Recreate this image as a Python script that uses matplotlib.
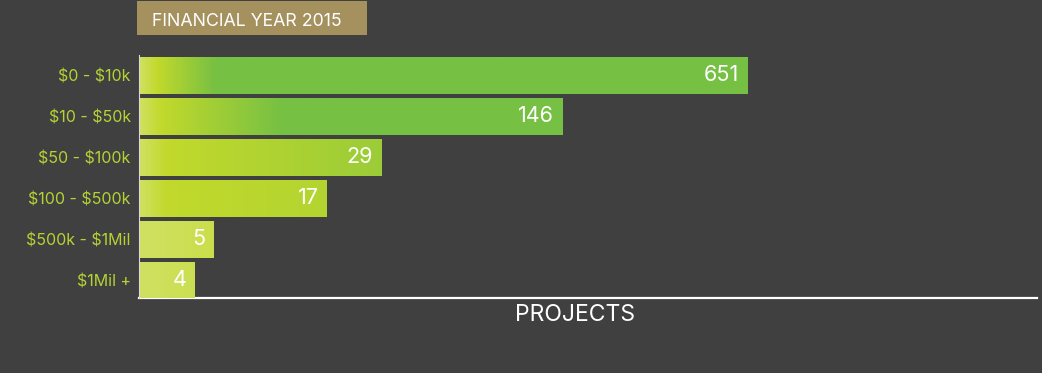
import numpy as np
import matplotlib
matplotlib.use('Agg')
import matplotlib.pyplot as plt
from matplotlib.colors import to_rgb
from matplotlib.patches import Rectangle

plt.rcParams['font.family'] = ['Inter', 'DejaVu Sans']
plt.rcParams['text.parse_math'] = False

# data
ranges = ['$0 - $10k', '$10 - $50k', '$50 - $100k', '$100 - $500k', '$500k - $1Mil', '$1Mil +']
projects = [651, 146, 29, 17, 5, 4]
title = 'FINANCIAL YEAR 2015'
xlabel = 'PROJECTS'

# colours
bg = '#404040'
light = '#d0e162'
yellow = '#c2d92c'
green = '#76c043'
label_col = '#b5d235'
# gradient stops for each bar (axes fraction): where yellow peaks, where green is reached
yellow_at = [0.02, 0.024, 0.03, 0.03, 0.2, 0.2]
green_at = [0.085, 0.16, 0.5, 0.95, 3.0, 3.0]


# compressed log scale for the bar lengths
def fwd(v):
    return np.power(np.log10(np.clip(v, 1.0001, None)), 1.3)


def inv(y):
    return np.power(10.0, np.power(np.clip(y, 0, None), 1 / 1.3))


x_min, x_max = 1.853, 5662

fig = plt.figure(figsize=(10.42, 3.73), dpi=100, facecolor=bg)
ax = fig.add_axes([139 / 1042, 75 / 373, 898 / 1042, 243 / 373])
ax.set_facecolor(bg)
ax.set_xscale('function', functions=(fwd, inv))

y = np.arange(len(projects))
widths = np.array(projects) - x_min
bars = ax.barh(y, widths, left=x_min, height=0.9, color=yellow, zorder=2)

# gradient fill, clipped to each bar
xs = np.linspace(0, 1, 600)
for bar, ya, ga in zip(bars, yellow_at, green_at):
    rgb = np.zeros((1, len(xs), 3))
    stops = [0, ya, ga]
    cols = [to_rgb(light), to_rgb(yellow), to_rgb(green)]
    for c in range(3):
        rgb[0, :, c] = np.interp(xs, stops, [col[c] for col in cols])
    im = ax.imshow(rgb, extent=(0, 1, 0, 1), transform=ax.transAxes,
                   aspect='auto', interpolation='bilinear', zorder=3)
    im.set_clip_path(bar)

for yi, v in zip(y, projects):
    ax.annotate(str(v), xy=(v, yi), xytext=(-6, 0), textcoords='offset points',
                ha='right', va='center', color='white', fontsize=15.5, zorder=5)

ax.set_xlim(x_min, x_max)
ax.set_ylim(5.44, -0.5)
ax.set_yticks(y)
ax.set_yticklabels(ranges, color=label_col, fontsize=11.5)
ax.tick_params(axis='y', length=0, pad=6)
ax.set_xticks([])
ax.xaxis.set_minor_locator(plt.NullLocator())

for s in ['top', 'right']:
    ax.spines[s].set_visible(False)
ax.spines['left'].set_color('#d8d8d8')
ax.spines['left'].set_linewidth(0.8)
ax.spines['bottom'].set_color('white')
ax.spines['bottom'].set_linewidth(1.6)
ax.spines['left'].set_zorder(6)

# title tab
fig.patches.append(Rectangle((137 / 1042, 1 - 35 / 373), 230 / 1042, 34 / 373,
                             transform=fig.transFigure, facecolor='#a4915e',
                             edgecolor='none'))
fig.text(152 / 1042, 1 - 22 / 373, title, color='white', fontsize=12.8,
         va='center', ha='left')

fig.text(575 / 1042, 1 - 315 / 373, xlabel, color='white', fontsize=16.5,
         ha='center', va='center')

fig.savefig('out.png', dpi=100, facecolor=bg)
